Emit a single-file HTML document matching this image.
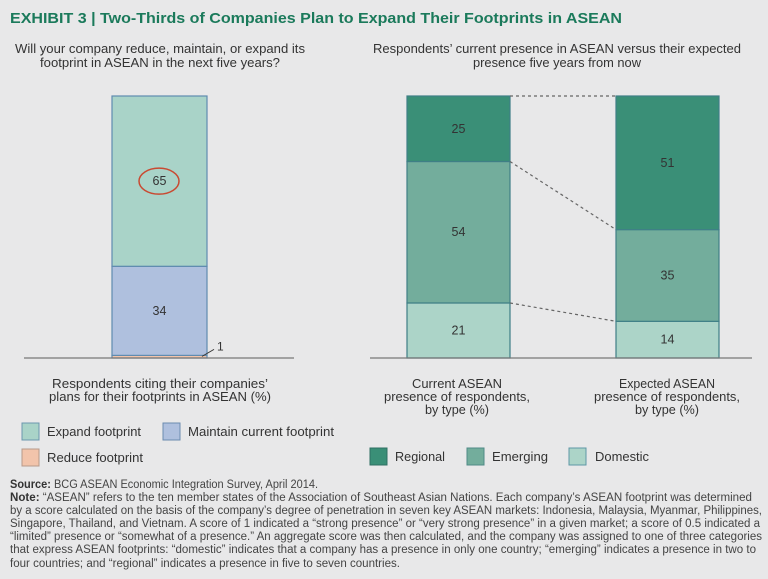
<!DOCTYPE html>
<html><head><meta charset="utf-8"><style>
html,body{margin:0;padding:0;background:#e8e8e9;}
svg{display:block;font-family:"Liberation Sans",sans-serif;}
</style></head><body>
<svg id="chart" width="768" height="579" viewBox="0 0 768 579">
<rect x="0" y="0" width="768" height="579" fill="#e8e8e9"/>
<text x="10" y="23" font-size="15" font-weight="bold" fill="#1b7a5b" textLength="612" lengthAdjust="spacingAndGlyphs">EXHIBIT 3 | Two-Thirds of Companies Plan to Expand Their Footprints in ASEAN</text>
<g font-size="12.5" fill="#333" text-anchor="middle">
<text x="160" y="53" textLength="290" lengthAdjust="spacingAndGlyphs">Will your company reduce, maintain, or expand its</text>
<text x="160" y="67" textLength="240" lengthAdjust="spacingAndGlyphs">footprint in ASEAN in the next five years?</text>
<text x="557" y="53" textLength="368" lengthAdjust="spacingAndGlyphs">Respondents’ current presence in ASEAN versus their expected</text>
<text x="557" y="67" textLength="168" lengthAdjust="spacingAndGlyphs">presence five years from now</text>
<text x="160" y="388" textLength="216" lengthAdjust="spacingAndGlyphs">Respondents citing their companies’</text>
<text x="160" y="401" textLength="222" lengthAdjust="spacingAndGlyphs">plans for their footprints in ASEAN (%)</text>
<text x="457" y="388" textLength="90" lengthAdjust="spacingAndGlyphs">Current ASEAN</text>
<text x="457" y="401" textLength="146" lengthAdjust="spacingAndGlyphs">presence of respondents,</text>
<text x="457" y="414" textLength="64" lengthAdjust="spacingAndGlyphs">by type (%)</text>
<text x="667" y="388" textLength="96" lengthAdjust="spacingAndGlyphs">Expected ASEAN</text>
<text x="667" y="401" textLength="146" lengthAdjust="spacingAndGlyphs">presence of respondents,</text>
<text x="667" y="414" textLength="64" lengthAdjust="spacingAndGlyphs">by type (%)</text>
</g>
<g id="bars"></g>
<line x1="24" y1="358" x2="294" y2="358" stroke="#777" stroke-width="1.2"/>
<line x1="370" y1="358" x2="752" y2="358" stroke="#777" stroke-width="1.2"/>
<g font-size="12.5" fill="#333">
<rect x="22" y="423" width="17" height="17" fill="#a9d3c8" stroke="#6b97ae"/>
<text x="47" y="436" textLength="94" lengthAdjust="spacingAndGlyphs">Expand footprint</text>
<rect x="163" y="423" width="17" height="17" fill="#afc0de" stroke="#6b8bb0"/>
<text x="188" y="436" textLength="146" lengthAdjust="spacingAndGlyphs">Maintain current footprint</text>
<rect x="22" y="449" width="17" height="17" fill="#f2c4ab" stroke="#b79a8a"/>
<text x="47" y="462" textLength="96" lengthAdjust="spacingAndGlyphs">Reduce footprint</text>
<rect x="370" y="448" width="17" height="17" fill="#3a8f77" stroke="#2f6f63"/>
<text x="395" y="461" textLength="50" lengthAdjust="spacingAndGlyphs">Regional</text>
<rect x="467" y="448" width="17" height="17" fill="#73ad9c" stroke="#4f8a86"/>
<text x="492" y="461" textLength="56" lengthAdjust="spacingAndGlyphs">Emerging</text>
<rect x="569" y="448" width="17" height="17" fill="#acd4c8" stroke="#5e97a6"/>
<text x="595" y="461" textLength="54" lengthAdjust="spacingAndGlyphs">Domestic</text>
</g>
<g font-size="11.5" fill="#444">
<text x="10" y="488" textLength="308" lengthAdjust="spacingAndGlyphs"><tspan font-weight="bold" fill="#333">Source:</tspan> BCG ASEAN Economic Integration Survey, April 2014.</text>
<text x="10" y="501" textLength="742" lengthAdjust="spacingAndGlyphs"><tspan font-weight="bold" fill="#333">Note:</tspan> “ASEAN” refers to the ten member states of the Association of Southeast Asian Nations. Each company’s ASEAN footprint was determined</text>
<text x="10" y="514" textLength="752" lengthAdjust="spacingAndGlyphs">by a score calculated on the basis of the company’s degree of penetration in seven key ASEAN markets: Indonesia, Malaysia, Myanmar, Philippines,</text>
<text x="10" y="527" textLength="750" lengthAdjust="spacingAndGlyphs">Singapore, Thailand, and Vietnam. A score of 1 indicated a “strong presence” or “very strong presence” in a given market; a score of 0.5 indicated a</text>
<text x="10" y="540" textLength="752" lengthAdjust="spacingAndGlyphs">“limited” presence or “somewhat of a presence.” An aggregate score was then calculated, and the company was assigned to one of three categories</text>
<text x="10" y="553" textLength="746" lengthAdjust="spacingAndGlyphs">that express ASEAN footprints: “domestic” indicates that a company has a presence in only one country; “emerging” indicates a presence in two to</text>
<text x="10" y="567" textLength="390" lengthAdjust="spacingAndGlyphs">four countries; and “regional” indicates a presence in five to seven countries.</text>
</g>
</svg>
<script>
const leftCategories = ['Reduce', 'Maintain', 'Expand'];
const leftValues = [1, 34, 65];
const rightCategories = ['Domestic', 'Emerging', 'Regional'];
const currentValues = [21, 54, 25];
const expectedValues = [14, 35, 51];

const NS = 'http://www.w3.org/2000/svg';
const g = document.getElementById('bars');
const base = 358, pxPer = 2.62;
function yScale(v){ return base - v * pxPer; }
function mk(tag, attrs){ const e = document.createElementNS(NS, tag); for (const k in attrs) e.setAttribute(k, attrs[k]); g.appendChild(e); return e; }

const leftFill = ['#f2c4ab', '#afc0de', '#a9d3c8'];
const rightFill = ['#acd4c8', '#73ad9c', '#3a8f77'];
const tops = {};
function stack(vals, cats, fills, x, w, key, stroke){
  let cum = 0; tops[key] = [];
  vals.forEach((v, i) => {
    const y0 = yScale(cum), y1 = yScale(cum + v);
    const r = mk('rect', {x: x, y: y1, width: w, height: y0 - y1, fill: fills[i], stroke: stroke, 'stroke-width': 1.2});
    
    
    tops[key].push([y0, y1]);
    if (v >= 5) {
      const t = mk('text', {x: x + w / 2, y: (y0 + y1) / 2 + 4, 'text-anchor': 'middle', 'font-size': 12.5, fill: '#333'});
      t.textContent = v;
      
      
    }
    cum += v;
  });
}
stack(leftValues, leftCategories, leftFill, 112, 95, 'plans', '#5f8bb0');
stack(currentValues, rightCategories, rightFill, 407, 103, 'current', '#3f7f86');
stack(expectedValues, rightCategories, rightFill, 616, 103, 'expected', '#3f7f86');

// circle around the expand value
const ex = tops.plans[2];
const c = mk('ellipse', {cx: 159, cy: (ex[0] + ex[1]) / 2, rx: 20, ry: 13, fill: 'none', stroke: '#c94a32', 'stroke-width': 1.5});



// small-value label for reduce
const rd = tops.plans[0];
const ll = mk('line', {x1: 202, y1: rd[1] + 1, x2: 214, y2: rd[1] - 6, stroke: '#333', 'stroke-width': 1});


const rt = mk('text', {x: 217, y: rd[1] - 5, 'font-size': 12, fill: '#333'});
rt.textContent = leftValues[0];



// dotted connectors
const conn = [[tops.current[2][1], tops.expected[2][1]], [tops.current[1][1], tops.expected[1][1]], [tops.current[0][1], tops.expected[0][1]]];
conn.forEach((p, i) => {
  const l = mk('line', {x1: 510, y1: p[0], x2: 616, y2: p[1], stroke: '#666', 'stroke-width': 1.2, 'stroke-dasharray': '3,3'});
  
  
});
</script>
</body></html>
